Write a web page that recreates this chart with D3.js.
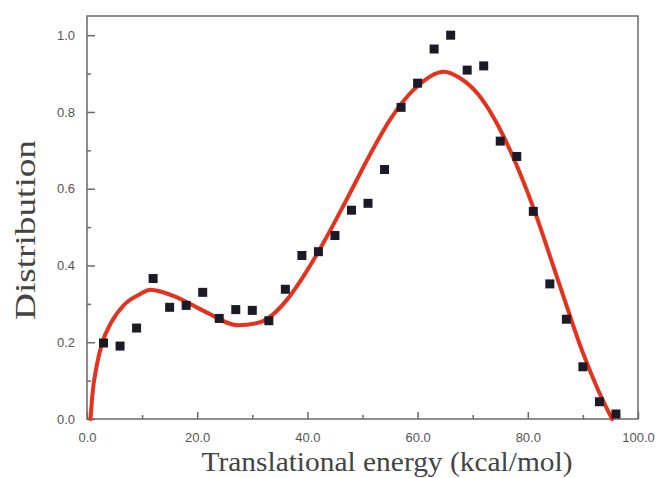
<!DOCTYPE html>
<html>
<head>
<meta charset="utf-8">
<script src="https://cdn.jsdelivr.net/npm/d3@7"></script>
<style>
  body { margin: 0; background: #fff; }
  svg { display: block; }
</style>
</head>
<body>
<div id="viz"></div>
<script>
// measured points (kcal/mol vs distribution)
const energy = [3, 6, 9, 12, 15, 18, 21, 24, 27, 30, 33, 36, 39, 42, 45, 48,
                51, 54, 57, 60, 63, 66, 69, 72, 75, 78, 81, 84, 87, 90, 93, 96];
const distribution = [0.198, 0.19, 0.237, 0.366, 0.291, 0.296, 0.33, 0.262, 0.285, 0.283, 0.256, 0.338,
                      0.426, 0.436, 0.478, 0.544, 0.562, 0.65, 0.812, 0.875, 0.964, 1.0, 0.909, 0.92,
                      0.724, 0.684, 0.541, 0.352, 0.26, 0.136, 0.045, 0.013];

// fitted curve
const fitEnergy = [0.64, 0.94, 1.85, 2.8, 4.3, 6.7, 9.7, 11.5, 16.3, 21, 27.5, 31.4, 36.2, 38.75,
                   42.4, 47.2, 51.4, 55.1, 59.3, 64.8, 67.6, 71.1, 74.2, 76.5, 78.9, 81.4, 83.8,
                   86.9, 89.8, 92.9, 95.3];
const fitValue = [0, 0.057, 0.145, 0.2, 0.249, 0.297, 0.326, 0.337, 0.317, 0.283, 0.244, 0.252, 0.309, 0.36,
                  0.446, 0.574, 0.690, 0.782, 0.858, 0.905, 0.889, 0.844, 0.775, 0.709, 0.629, 0.535, 0.434,
                  0.301, 0.180, 0.071, 0];

const xTicks = [0, 20, 40, 60, 80, 100];
const yTicks = [0, 0.2, 0.4, 0.6, 0.8, 1.0];

const width = 657, height = 478;
const plotLeft = 87, plotRight = 638, plotTop = 16, plotBottom = 419;

const svg = d3.select("#viz")
    .append("svg")
    .attr("width", width)
    .attr("height", height);

const xScale = d3.scaleLinear().domain([0, 100]).range([plotLeft, plotRight]);
const yScale = d3.scaleLinear().domain([0, 1.05]).range([plotBottom, plotTop]);

// frame
svg.append("rect")
    .attr("x", plotLeft)
    .attr("y", plotTop)
    .attr("width", plotRight - plotLeft)
    .attr("height", plotBottom - plotTop)
    .attr("fill", "none")
    .attr("stroke", "#6a6a6a")
    .attr("stroke-width", 1.5);

// axes with inward ticks
const tickColor = "#555";
const xAxis = svg.append("g")
    .attr("transform", `translate(0,${plotBottom})`)
    .call(d3.axisBottom(xScale).tickValues(xTicks).tickFormat(d3.format(".1f"))
        .tickSize(-7).tickPadding(14));
const xMinor = svg.append("g")
    .attr("transform", `translate(0,${plotBottom})`)
    .call(d3.axisBottom(xScale).tickValues([10, 30, 50, 70, 90]).tickFormat("").tickSize(-4));

const yAxis = svg.append("g")
    .attr("transform", `translate(${plotLeft},0)`)
    .call(d3.axisLeft(yScale).tickValues(yTicks).tickFormat(d3.format(".1f"))
        .tickSize(-8).tickPadding(12));
const yMinor = svg.append("g")
    .attr("transform", `translate(${plotLeft},0)`)
    .call(d3.axisLeft(yScale).tickValues([0.1, 0.3, 0.5, 0.7, 0.9]).tickFormat("").tickSize(-4));

[xAxis, xMinor, yAxis, yMinor].forEach(g => {
    g.select(".domain").remove();
    g.selectAll("line").attr("stroke", "#6a6a6a").attr("stroke-width", 1.5);
    g.selectAll("text")
        .attr("fill", tickColor)
        .style("font-family", "'Liberation Sans', Arial, sans-serif")
        .style("font-size", "13px");
});

// fitted curve
const line = d3.line()
    .x((d, i) => xScale(fitEnergy[i]))
    .y((d) => yScale(d))
    .curve(d3.curveMonotoneX);

svg.append("path")
    .datum(fitValue)
    .attr("fill", "none")
    .attr("stroke", "#e5321f")
    .attr("stroke-width", 4)
    .attr("stroke-linecap", "round")
    .attr("d", line);

// data squares
const s = 9;
svg.selectAll(".pt")
    .data(distribution)
    .enter()
    .append("rect")
    .attr("class", "pt")
    .attr("x", (d, i) => xScale(energy[i]) - s / 2)
    .attr("y", (d) => yScale(d) - s / 2)
    .attr("width", s)
    .attr("height", s)
    .attr("fill", "#1c1a26");

// axis titles
svg.append("text")
    .attr("x", 387)
    .attr("y", 471)
    .attr("text-anchor", "middle")
    .attr("textLength", 371)
    .attr("lengthAdjust", "spacingAndGlyphs")
    .attr("fill", "#444")
    .style("font-family", "'Liberation Serif', 'Times New Roman', serif")
    .style("font-size", "28px")
    .text("Translational energy (kcal/mol)");

svg.append("text")
    .attr("transform", "translate(35,230) rotate(-90)")
    .attr("text-anchor", "middle")
    .attr("textLength", 180)
    .attr("lengthAdjust", "spacingAndGlyphs")
    .attr("fill", "#444")
    .style("font-family", "'Liberation Serif', 'Times New Roman', serif")
    .style("font-size", "30px")
    .text("Distribution");
</script>
</body>
</html>
